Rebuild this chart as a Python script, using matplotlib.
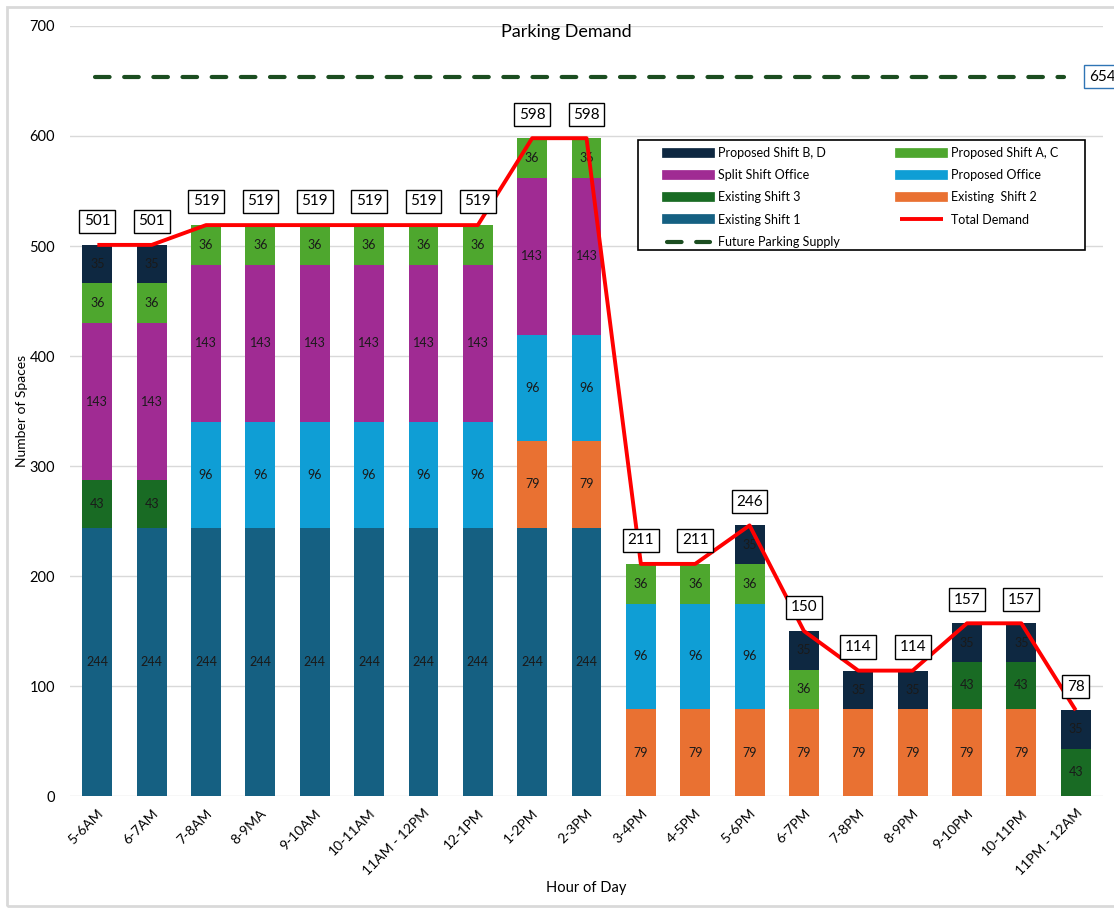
import matplotlib.pyplot as plt
import numpy as np
from matplotlib.patches import Rectangle
from matplotlib.lines import Line2D

plt.rcParams['font.family'] = ['Lato', 'DejaVu Sans']

hours = ["5-6AM", "6-7AM", "7-8AM", "8-9MA", "9-10AM", "10-11AM", "11AM - 12PM",
         "12-1PM", "1-2PM", "2-3PM", "3-4PM", "4-5PM", "5-6PM", "6-7PM", "7-8PM",
         "8-9PM", "9-10PM", "10-11PM", "11PM - 12AM"]

existing_shift_1 = [244, 244, 244, 244, 244, 244, 244, 244, 244, 244, 0, 0, 0, 0, 0, 0, 0, 0, 0]
existing_shift_2 = [0, 0, 0, 0, 0, 0, 0, 0, 79, 79, 79, 79, 79, 79, 79, 79, 79, 79, 0]
existing_shift_3 = [43, 43, 0, 0, 0, 0, 0, 0, 0, 0, 0, 0, 0, 0, 0, 0, 43, 43, 43]
proposed_office = [0, 0, 96, 96, 96, 96, 96, 96, 96, 96, 96, 96, 96, 0, 0, 0, 0, 0, 0]
split_shift_office = [143, 143, 143, 143, 143, 143, 143, 143, 143, 143, 0, 0, 0, 0, 0, 0, 0, 0, 0]
proposed_shift_ac = [36, 36, 36, 36, 36, 36, 36, 36, 36, 36, 36, 36, 36, 36, 0, 0, 0, 0, 0]
proposed_shift_bd = [35, 35, 0, 0, 0, 0, 0, 0, 0, 0, 0, 0, 35, 35, 35, 35, 35, 35, 35]
total_demand = [501, 501, 519, 519, 519, 519, 519, 519, 598, 598, 211, 211, 246, 150, 114, 114, 157, 157, 78]
future_supply = 654

series = [
    ("Existing Shift 1", existing_shift_1, "#156082"),
    ("Existing  Shift 2", existing_shift_2, "#E97132"),
    ("Existing Shift 3", existing_shift_3, "#196B24"),
    ("Proposed Office", proposed_office, "#0F9ED5"),
    ("Split Shift Office", split_shift_office, "#A02B93"),
    ("Proposed Shift A, C", proposed_shift_ac, "#4EA72E"),
    ("Proposed Shift B, D", proposed_shift_bd, "#0E2841"),
]

fig = plt.figure(figsize=(11.14, 9.09), dpi=100)
ax = fig.add_axes([0.063, 0.1243, 0.927, 0.8471])
fig.patches.append(Rectangle((0.006, 0.003), 0.996, 0.989, transform=fig.transFigure,
                             fill=False, edgecolor="#d9d9d9", linewidth=2))

x = np.arange(len(hours))
bottom = np.zeros(len(hours))
handles = {}
for name, vals, color in series:
    vals = np.array(vals)
    ax.bar(x, vals, 0.55, bottom=bottom, color=color, label=name, zorder=2)
    handles[name] = Line2D([], [], color=color, linewidth=7)
    for xi, v, b in zip(x, vals, bottom):
        if v > 0:
            ax.text(xi, b + v / 2, str(v), ha="center", va="center", fontsize=9,
                    color="#1a1a1a", zorder=3)
    bottom += vals

ln_total, = ax.plot(x, total_demand, color="#ff0000", linewidth=2.8, zorder=4,
                    solid_capstyle="butt", label="Total Demand")
ln_supply, = ax.plot([-0.04, 17.78], [future_supply, future_supply], color="#1b4d20",
                     linewidth=3, dashes=(3.5, 3.5), dash_capstyle="round", zorder=4,
                     label="Future Parking Supply")

for xi, t in zip(x, total_demand):
    ax.annotate(str(t), (xi, t), xytext=(0, 17), textcoords="offset points",
                ha="center", va="center", fontsize=11, zorder=5,
                bbox=dict(boxstyle="square,pad=0.3", fc="white", ec="black", lw=1))

ax.annotate(str(future_supply), (18.5, future_supply), xytext=(-10, 0),
            textcoords="offset points", ha="left", va="center", fontsize=11,
            annotation_clip=False,
            bbox=dict(boxstyle="square,pad=0.3", fc="white", ec="#2f75b5", lw=1))

ax.set_xlim(-0.5, 18.5)
ax.set_ylim(0, 700)
ax.set_yticks(range(0, 701, 100))
ax.set_xticks(x)
ax.set_xticklabels(hours, rotation=45, ha="right", rotation_mode="anchor", fontsize=9.5)
ax.tick_params(axis="both", length=0, labelsize=10)
ax.tick_params(axis="y", pad=11, labelsize=10.5)
ax.tick_params(axis="x", pad=8)
ax.grid(axis="y", color="#d9d9d9", linewidth=1, zorder=0)
ax.set_axisbelow(True)
for s in ax.spines.values():
    s.set_visible(False)

ax.set_ylabel("Number of Spaces", fontsize=10, labelpad=1)
ax.set_xlabel("Hour of Day", fontsize=10.5, labelpad=2)
ax.text(0.48, 0.992, "Parking Demand", transform=ax.transAxes, ha="center", va="center",
        fontsize=13)

# legend frame drawn separately so the entries can sit inset like the original
ax.add_patch(Rectangle((0.550, 0.709), 0.4326, 0.143, transform=ax.transAxes,
                       facecolor="white", edgecolor="black", linewidth=1.2, zorder=5))
order = [
    handles["Proposed Shift B, D"], handles["Split Shift Office"],
    handles["Existing Shift 3"], handles["Existing Shift 1"], ln_supply,
    handles["Proposed Shift A, C"], handles["Proposed Office"],
    handles["Existing  Shift 2"], ln_total,
]
labels = ["Proposed Shift B, D", "Split Shift Office", "Existing Shift 3", "Existing Shift 1",
          "Future Parking Supply", "Proposed Shift A, C", "Proposed Office",
          "Existing  Shift 2", "Total Demand"]
leg = ax.legend(order, labels, ncol=2, loc="upper left", bbox_to_anchor=(0.578, 0.843),
                fontsize=9, frameon=False,
                handlelength=3.4, handletextpad=0.7, columnspacing=4.8, labelspacing=0.82,
                borderpad=0, borderaxespad=0)
leg.set_zorder(6)

fig.savefig("out.png", dpi=100)
